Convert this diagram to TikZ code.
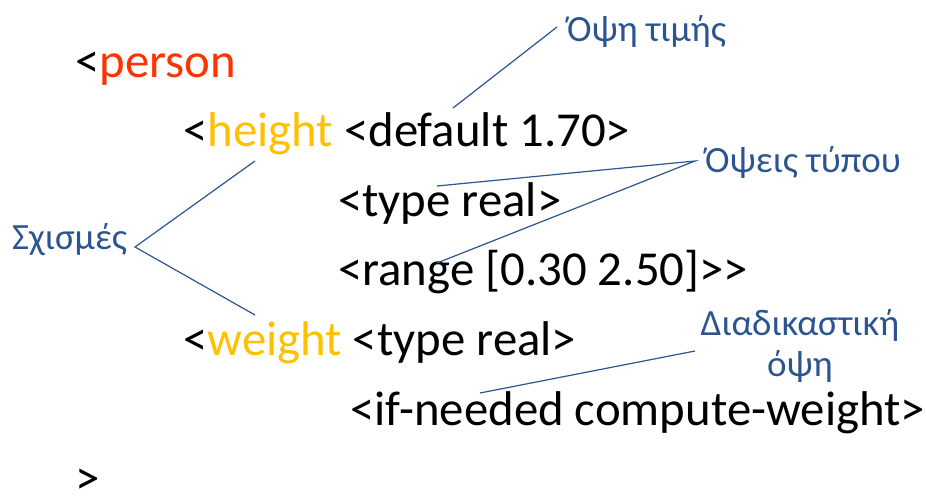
\documentclass[tikz,border=0pt]{standalone}
\usepackage{fontspec}
\setmainfont{Carlito}
\definecolor{persred}{HTML}{FF3300}
\definecolor{slotyel}{HTML}{FFC000}
\definecolor{annblue}{HTML}{2B5591}
\begin{document}
\begin{tikzpicture}[x=1pt,y=-1pt,
  code/.style={anchor=base west,inner sep=0pt,font=\fontsize{48.8}{58}\selectfont},
  ann/.style={anchor=base west,inner sep=0pt,text=annblue,font=\fontsize{37}{41}\selectfont},
  link/.style={draw=annblue,line width=1.2pt}]
\useasboundingbox (0,0) rectangle (926,498);
% code lines
\node[code] (l1) at (75,77) {<\textcolor{persred}{person}};
\node[code] (l2) at (183,146) {<\textcolor{slotyel}{height} <default 1.70>};
\node[code] (l3) at (338,216) {<type real>};
\node[code] (l4) at (338,285) {<range [0.30 2.50]>{}>};
\node[code] (l5) at (183,355) {<\textcolor{slotyel}{weight} <type real>};
\node[code] (l6) at (350,425) {<if-needed compute-weight>};
\node[code] (l7) at (75,494) {>};
% annotations
\node[ann] (a1) at (567,41) {Όψη τιμής};
\node[ann] (a2) at (705,172) {Όψεις τύπου};
\node[ann] (a3) at (12,249) {Σχισμές};
\node[ann,anchor=north,align=center] (a4) at (800,309) {Διαδικαστική\\όψη};
% connector end points
\coordinate (p1a) at (557,27);
\coordinate (p1b) at (453,108);
\coordinate (p2) at (695,161);
\coordinate (p2a) at (437,186);
\coordinate (p2b) at (437,263);
\coordinate (p3) at (135,247);
\coordinate (p3a) at (255,161);
\coordinate (p3b) at (255,315);
\coordinate (p4) at (695,351);
\coordinate (p4a) at (480,393);
\draw[link] (p1a) -- (p1b);
\draw[link] (p2a) -- (p2) -- (p2b);
\draw[link] (p3a) -- (p3) -- (p3b);
\draw[link] (p4) -- (p4a);
\end{tikzpicture}
\end{document}
